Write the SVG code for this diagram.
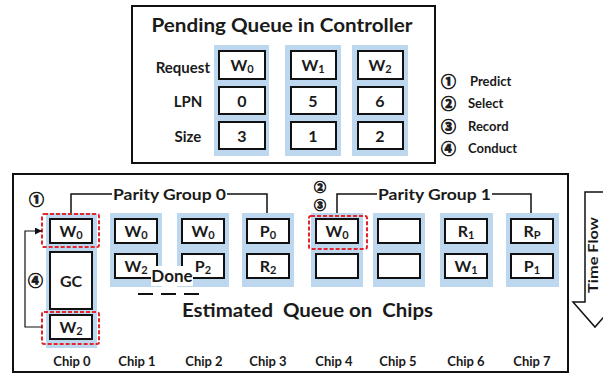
<svg xmlns="http://www.w3.org/2000/svg" width="603" height="377" viewBox="0 0 603 377">
<style>
text{font-family:Lato,"Liberation Sans",sans-serif;font-weight:bold;fill:#1a1a1a}
.frame{fill:#fff;stroke:#111;stroke-width:2}
.col{fill:#bdd7ee}
.box{fill:#fff;stroke:#111;stroke-width:2}
.red{fill:none;stroke:#e3262d;stroke-width:2;stroke-dasharray:4 2}
.ln{fill:none;stroke:#111;stroke-width:1.5}
.bt{font-size:16px;text-anchor:middle}
.lab{font-size:15px}
.cl{font-size:13px;text-anchor:middle}
.num{font-family:"Noto Sans CJK SC","DejaVu Sans",sans-serif;font-size:15px;font-weight:900;stroke:#1a1a1a;stroke-width:0.6}
.num2{font-family:"Noto Sans CJK SC","DejaVu Sans",sans-serif;font-size:12px;font-weight:900;stroke:#1a1a1a;stroke-width:0.7}
.leg{font-size:13px}
.sub{font-size:11px}
</style>
<defs>
<marker id="ah" viewBox="0 0 8 8" refX="8" refY="4" markerWidth="7" markerHeight="7" markerUnits="userSpaceOnUse" orient="auto">
<path d="M0,0 L8,4 L0,8 z" fill="#111"/>
</marker>
</defs>
<rect width="603" height="377" fill="#fff"/>

<g id="pending-queue">
<rect class="frame" x="132" y="6" width="303" height="157"/>
<text x="282" y="32" font-size="18" text-anchor="middle" textLength="261" lengthAdjust="spacingAndGlyphs">Pending Queue in Controller</text>
<text class="lab" x="210" y="73" text-anchor="end">Request</text>
<text class="lab" x="188" y="107" text-anchor="middle">LPN</text>
<text class="lab" x="188" y="142" text-anchor="middle">Size</text>
<rect class="col" x="214" y="45" width="55" height="111"/>
<rect class="col" x="285" y="45" width="56" height="111"/>
<rect class="col" x="352" y="45" width="56" height="111"/>
<rect class="box" x="219" y="51" width="46" height="28"/>
<rect class="box" x="219" y="87" width="46" height="27"/>
<rect class="box" x="219" y="122" width="46" height="27"/>
<rect class="box" x="291" y="51" width="45" height="28"/>
<rect class="box" x="291" y="87" width="45" height="27"/>
<rect class="box" x="291" y="122" width="45" height="27"/>
<rect class="box" x="358" y="51" width="45" height="28"/>
<rect class="box" x="358" y="87" width="45" height="27"/>
<rect class="box" x="358" y="122" width="45" height="27"/>
<text class="bt" x="242" y="71">W<tspan class="sub" dy="2">0</tspan></text>
<text class="bt" x="313" y="71">W<tspan class="sub" dy="2">1</tspan></text>
<text class="bt" x="380" y="71">W<tspan class="sub" dy="2">2</tspan></text>
<text class="bt" x="242" y="107">0</text>
<text class="bt" x="313" y="107">5</text>
<text class="bt" x="380" y="107">6</text>
<text class="bt" x="242" y="142">3</text>
<text class="bt" x="313" y="142">1</text>
<text class="bt" x="380" y="142">2</text>
</g>

<g id="legend">
<text class="num" x="441" y="87">①</text><text class="leg" x="470" y="86">Predict</text>
<text class="num" x="441" y="109">②</text><text class="leg" x="468" y="108">Select</text>
<text class="num" x="441" y="132">③</text><text class="leg" x="468" y="131">Record</text>
<text class="num" x="441" y="154">④</text><text class="leg" x="468" y="153">Conduct</text>
</g>

<g id="chip-frame">
<rect class="frame" x="13" y="174" width="555" height="198"/>
</g>

<g id="chip0">
<rect class="col" x="46" y="213" width="51" height="135"/>
<rect class="box" x="50" y="219" width="42" height="24"/>
<rect class="box" x="50" y="252" width="42" height="57"/>
<rect class="box" x="50" y="315" width="42" height="24"/>
<text class="bt" x="71" y="237">W<tspan class="sub" dy="2">0</tspan></text>
<text class="bt" x="71" y="287" font-size="17">GC</text>
<text class="bt" x="71" y="333">W<tspan class="sub" dy="2">2</tspan></text>
<rect class="red" x="42" y="214" width="57" height="33" rx="2"/>
<rect class="red" x="42" y="312" width="57" height="32" rx="2"/>
<text class="cl" x="72" y="366">Chip 0</text>
</g>

<g id="chip1">
<rect class="col" x="110" y="213" width="52" height="74"/>
<rect class="box" x="115" y="219" width="42" height="24"/>
<rect class="box" x="115" y="254" width="42" height="24"/>
<text class="bt" x="136" y="237">W<tspan class="sub" dy="2">0</tspan></text>
<text class="bt" x="136" y="272">W<tspan class="sub" dy="2">2</tspan></text>
<text class="cl" x="137" y="366">Chip 1</text>
</g>

<g id="chip2">
<rect class="col" x="177" y="213" width="52" height="74"/>
<rect class="box" x="182" y="219" width="42" height="24"/>
<rect class="box" x="182" y="254" width="42" height="24"/>
<text class="bt" x="203" y="237">W<tspan class="sub" dy="2">0</tspan></text>
<text class="bt" x="203" y="272">P<tspan class="sub" dy="2">2</tspan></text>
<text class="cl" x="204" y="366">Chip 2</text>
</g>

<g id="done">
<rect x="151" y="266" width="42" height="20" fill="#fff"/>
<text x="172" y="282" font-size="17" text-anchor="middle">Done</text>
<line x1="138" y1="294" x2="200" y2="294" stroke="#111" stroke-width="2" stroke-dasharray="15 8"/>
</g>

<g id="chip3">
<rect class="col" x="242" y="213" width="52" height="74"/>
<rect class="box" x="247" y="219" width="42" height="24"/>
<rect class="box" x="247" y="254" width="42" height="24"/>
<text class="bt" x="268" y="237">P<tspan class="sub" dy="2">0</tspan></text>
<text class="bt" x="268" y="272">R<tspan class="sub" dy="2">2</tspan></text>
<text class="cl" x="268" y="366">Chip 3</text>
</g>

<g id="chip4">
<rect class="col" x="311" y="213" width="52" height="74"/>
<rect class="box" x="316" y="219" width="42" height="24"/>
<rect class="box" x="316" y="254" width="42" height="24"/>
<text class="bt" x="337" y="237">W<tspan class="sub" dy="2">0</tspan></text>
<rect class="red" x="309" y="216" width="58" height="33" rx="2"/>
<text class="cl" x="334" y="366">Chip 4</text>
</g>

<g id="chip5">
<rect class="col" x="373" y="213" width="52" height="74"/>
<rect class="box" x="378" y="219" width="42" height="24"/>
<rect class="box" x="378" y="254" width="42" height="24"/>
<text class="cl" x="398" y="366">Chip 5</text>
</g>

<g id="chip6">
<rect class="col" x="440" y="213" width="53" height="74"/>
<rect class="box" x="445" y="219" width="42" height="24"/>
<rect class="box" x="445" y="254" width="42" height="24"/>
<text class="bt" x="466" y="237">R<tspan class="sub" dy="2">1</tspan></text>
<text class="bt" x="466" y="272">W<tspan class="sub" dy="2">1</tspan></text>
<text class="cl" x="466" y="366">Chip 6</text>
</g>

<g id="chip7">
<rect class="col" x="506" y="213" width="53" height="74"/>
<rect class="box" x="511" y="219" width="42" height="24"/>
<rect class="box" x="511" y="254" width="42" height="24"/>
<text class="bt" x="532" y="237">R<tspan class="sub" dy="2">P</tspan></text>
<text class="bt" x="532" y="272">P<tspan class="sub" dy="2">1</tspan></text>
<text class="cl" x="532" y="366">Chip 7</text>
</g>

<g id="connectors">
<path class="ln" d="M71,213 V194 H112"/>
<path class="ln" d="M227,194 H267 V213"/>
<path class="ln" d="M337,213 V194 H377"/>
<path class="ln" d="M492,194 H531 V213"/>
<path fill="none" stroke="#111" stroke-width="1.2" d="M42,327 H25 V231 H42" marker-end="url(#ah)"/>
</g>

<g id="labels">
<text x="113" y="200" font-size="15" textLength="113" lengthAdjust="spacingAndGlyphs">Parity Group 0</text>
<text x="378" y="200" font-size="15" textLength="113" lengthAdjust="spacingAndGlyphs">Parity Group 1</text>
<text class="num" x="29" y="205">①</text>
<text class="num" x="28" y="286">④</text>
<text class="num2" x="314" y="192">②</text>
<text class="num2" x="314" y="210">③</text>
<text x="182" y="317" font-size="19" style="white-space:pre" textLength="251" lengthAdjust="spacingAndGlyphs">Estimated  Queue on  Chips</text>
</g>

<g id="time-flow">
<path d="M585,192 H606 V302 H617 L595,327 L573,302 H585 Z" fill="#fff" stroke="#111" stroke-width="1.5"/>
<text transform="translate(598,255) rotate(-90)" font-size="13" text-anchor="middle" textLength="76" lengthAdjust="spacingAndGlyphs">Time Flow</text>
</g>
</svg>
